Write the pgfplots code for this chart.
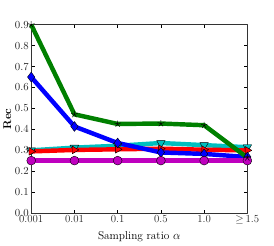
\documentclass[border=0pt]{standalone}
\usepackage{pgfplots}
\pgfplotsset{compat=1.18}
\usepackage{amssymb}
\definecolor{mgreen}{rgb}{0,0.5,0}
\definecolor{mcyan}{rgb}{0,0.75,0.75}
\definecolor{mmag}{rgb}{0.75,0,0.75}
\begin{document}
\begin{tikzpicture}
\begin{axis}[
  scale only axis,
  width=219bp, height=191bp,
  xmin=0, xmax=5, ymin=0, ymax=0.9,
  xtick={0,1,2,3,4,5},
  xticklabels={0.001,0.01,0.1,0.5,1.0,$\geq$\,1.5},
  ytick={0,0.1,0.2,0.3,0.4,0.5,0.6,0.7,0.8,0.9},
  /pgf/number format/fixed,
  /pgf/number format/fixed zerofill,
  /pgf/number format/precision=1,
  tick align=inside,
  major tick length=3.5bp,
  tick style={black, line width=0.5bp},
  axis line style={black!80, line width=0.8bp},
  xtick pos=both, ytick pos=both,
  xticklabel pos=bottom, yticklabel pos=left,
  xlabel={Sampling ratio $\alpha$},
  ylabel={\textbf{Rec}},
  label style={font=\fontsize{11.5}{13}\selectfont},
  xlabel style={yshift=0bp},
  ylabel style={yshift=-3bp},
  every tick label/.append style={font=\fontsize{11}{13}\selectfont, black!85},
  xticklabel style={yshift=1bp},
  yticklabel style={xshift=1bp},
  clip=false,
  line join=round,
]
\addplot[mcyan, line width=4.5bp, mark=triangle*, mark size=5bp, mark options={rotate=180, fill=mcyan, draw=black, line width=0.4bp}]
  coordinates {(0,0.300) (1,0.313) (2,0.322) (3,0.335) (4,0.325) (5,0.315)};
\addplot[red, line width=4.5bp, mark=triangle*, mark size=4.5bp, mark options={rotate=-90, fill=red, draw=black, line width=0.4bp}]
  coordinates {(0,0.295) (1,0.302) (2,0.305) (3,0.308) (4,0.303) (5,0.300)};
\addplot[blue, line width=4.5bp, mark=diamond*, mark size=5bp, mark options={fill=blue, draw=black, line width=0.4bp}]
  coordinates {(0,0.650) (1,0.414) (2,0.335) (3,0.290) (4,0.283) (5,0.268)};
\addplot[mmag, line width=4.5bp, mark=*, mark size=4.5bp, mark options={fill=mmag, draw=black, line width=0.4bp}]
  coordinates {(0,0.251) (1,0.251) (2,0.251) (3,0.251) (4,0.251) (5,0.251)};
\addplot[mgreen, line width=4.5bp, mark=star, mark size=3.5bp, mark options={draw=black, line width=0.5bp}]
  coordinates {(0,0.900) (1,0.472) (2,0.426) (3,0.428) (4,0.420) (5,0.265)};
\end{axis}
\path (current axis.south west) ++(-28bp,-33bp) coordinate (bl);
\path (current axis.north east) ++(27bp,25bp) coordinate (tr);
\path[use as bounding box] (bl) rectangle (tr);
\end{tikzpicture}
\end{document}
